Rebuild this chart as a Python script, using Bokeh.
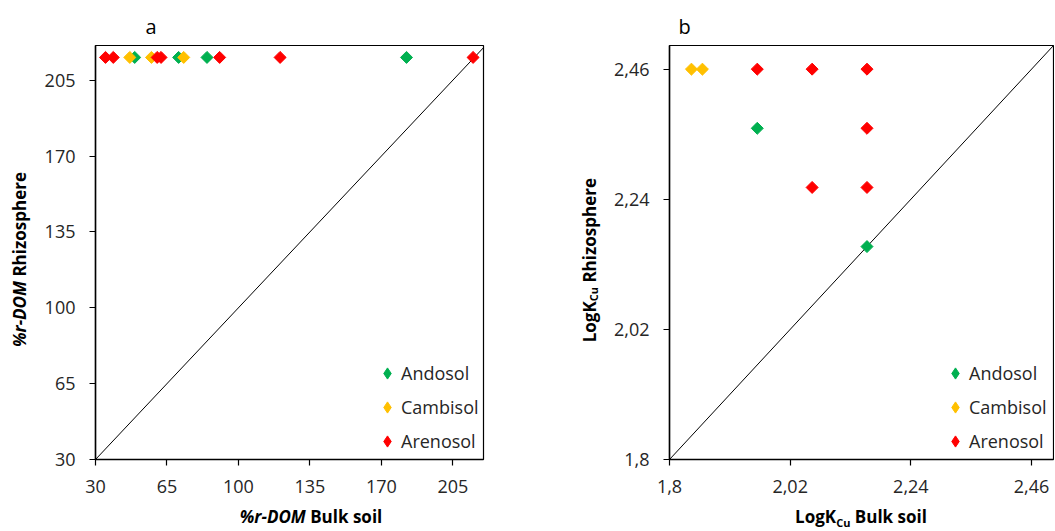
import math
from bokeh.plotting import figure
from bokeh.layouts import row, column
from bokeh.models import Range1d, FixedTicker, Legend, LegendItem, Div
from bokeh.embed import file_html
from bokeh.resources import INLINE

# ---------------- data ----------------
soils = ["Andosol", "Cambisol", "Arenosol"]
colors = ["#00B050", "#FFC000", "#FF0000"]

# panel a : %r-DOM
a_andosol_x = [49.2, 70.7, 84.6, 182.3]
a_andosol_y = [215.5, 215.5, 215.5, 215.5]
a_cambisol_x = [46.8, 57.4, 73.2]
a_cambisol_y = [215.5, 215.5, 215.5]
a_arenosol_x = [34.9, 38.7, 60.2, 62.1, 90.8, 120.4, 214.9]
a_arenosol_y = [215.5, 215.5, 215.5, 215.5, 215.5, 215.5, 215.5]
a_ticks = [30, 65, 100, 135, 170, 205]

# panel b : LogK Cu
b_andosol_x = [1.96, 2.16]
b_andosol_y = [2.36, 2.16]
b_cambisol_x = [1.84, 1.86]
b_cambisol_y = [2.46, 2.46]
b_arenosol_x = [1.96, 2.06, 2.16, 2.16, 2.06, 2.16]
b_arenosol_y = [2.46, 2.46, 2.46, 2.36, 2.26, 2.26]
b_ticks = [1.8, 2.02, 2.24, 2.46]
b_tick_labels = ["1,8", "2,02", "2,24", "2,46"]

FONT = "Open Sans"
TICK_SIZE = "18px"
FIG_H = 504
NAN = float("nan")


def make_fig(width, left, right, xr, yr, letter, letter_offset):
    p = figure(width=width, height=FIG_H, x_range=xr, y_range=yr, title=letter,
               output_backend="svg", toolbar_location=None,
               min_border_left=left, min_border_right=right,
               min_border_top=45, min_border_bottom=45)
    p.title.align = "left"
    p.title.offset = letter_offset
    p.title.standoff = 12
    p.title.text_font = FONT
    p.title.text_font_size = "20px"
    p.title.text_font_style = "normal"
    p.title.text_color = "black"
    p.background_fill_color = "white"
    p.border_fill_color = "white"
    p.outline_line_color = "black"
    p.outline_line_width = 1.2
    p.xgrid.visible = False
    p.ygrid.visible = False
    for ax in (p.xaxis[0], p.yaxis[0]):
        ax.axis_line_color = "black"
        ax.axis_line_width = 1.5
        ax.major_tick_line_color = "black"
        ax.major_tick_line_width = 1.2
        ax.major_tick_out = 6
        ax.major_tick_in = 0
        ax.minor_tick_line_color = None
        ax.major_label_text_font = FONT
        ax.major_label_text_font_size = TICK_SIZE
        ax.major_label_text_color = "#262626"
    p.xaxis[0].major_label_standoff = 14
    p.yaxis[0].major_label_standoff = 14
    return p


def add_points(p, series, lx, ly, standoff):
    items = []
    for (xs, ys), name, col in zip(series, soils, colors):
        p.scatter(xs, ys, marker="square", angle=math.pi / 4, size=8.5,
                  fill_color=col, line_color=col)
        # legend key only (no visible point): diamond symbol
        key = p.scatter(x=[NAN], y=[NAN], marker="diamond",
                        fill_color=col, line_color=col)
        items.append(LegendItem(label=name, renderers=[key]))
    leg = Legend(items=items, location=(lx, ly), padding=0, margin=0,
                 spacing=6, label_height=28, glyph_height=28, glyph_width=28,
                 label_standoff=standoff, background_fill_alpha=0,
                 border_line_alpha=0, label_text_font=FONT,
                 label_text_font_size=TICK_SIZE, label_text_color="#262626")
    p.add_layout(leg, "center")


# ---------------- panel a ----------------
p1 = make_fig(532, 55, 89, Range1d(30, 220), Range1d(30, 221), "a", 50)
p1.xaxis[0].ticker = FixedTicker(ticks=a_ticks)
p1.yaxis[0].ticker = FixedTicker(ticks=a_ticks)
p1.line([30, 221], [30, 221], line_color="black", line_width=1)
add_points(p1, [(a_andosol_x, a_andosol_y), (a_cambisol_x, a_cambisol_y),
                (a_arenosol_x, a_arenosol_y)], 278, 4, 0)

# ---------------- panel b ----------------
p2 = make_fig(446, 61, 1, Range1d(1.8, 2.5), Range1d(1.8, 2.5), "b", 9)
p2.xaxis[0].ticker = FixedTicker(ticks=b_ticks)
p2.yaxis[0].ticker = FixedTicker(ticks=b_ticks)
p2.xaxis[0].major_label_overrides = dict(zip(b_ticks, b_tick_labels))
p2.yaxis[0].major_label_overrides = dict(zip(b_ticks, b_tick_labels))
p2.line([1.8, 2.5], [1.8, 2.5], line_color="black", line_width=1)
add_points(p2, [(b_andosol_x, b_andosol_y), (b_cambisol_x, b_cambisol_y),
                (b_arenosol_x, b_arenosol_y)], 272, 4, 0)

# ---------------- axis titles (HTML, mixed styles) ----------------
TXT = "font-family:'Open Sans';font-size:17px;font-weight:bold;color:black;white-space:nowrap;"
SUB = "font-size:11px;line-height:0;vertical-align:-4px;"


def vtitle(html, w):
    return Div(width=w, height=FIG_H, margin=0, text=(
        f'<div style="width:{w}px;height:{FIG_H}px;display:flex;align-items:center;'
        f'justify-content:center;padding-top:16px;box-sizing:border-box;">'
        f'<span style="writing-mode:vertical-rl;transform:rotate(180deg);{TXT}">{html}</span></div>'))


ya = vtitle("<i>%r-DOM</i> Rhizosphere", 40)
yb = vtitle(f'LogK<sub style="{SUB}">Cu</sub> Rhizosphere', 36)
xt = Div(width=1054, height=26, margin=0, text=(
    f'<div style="position:relative;width:1054px;height:26px;line-height:26px;{TXT}">'
    f'<div style="position:absolute;left:211px;top:0;width:200px;text-align:center;">'
    f'<i>%r-DOM</i> Bulk soil</div>'
    f'<div style="position:absolute;left:761px;top:0;width:200px;text-align:center;">'
    f'LogK<sub style="{SUB}">Cu</sub> Bulk soil</div></div>'))

layout = column(row(ya, p1, yb, p2, spacing=0), xt, spacing=0)
open("out.html", "w").write(file_html(layout, INLINE))
